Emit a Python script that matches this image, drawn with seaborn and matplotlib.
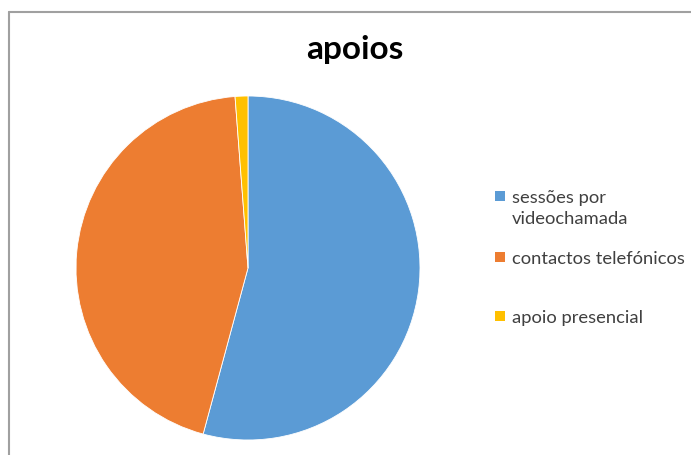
import matplotlib
matplotlib.use("Agg")
import matplotlib.pyplot as plt
import seaborn as sns
from matplotlib.lines import Line2D
from matplotlib.patches import Rectangle

sns.set_style("white")
plt.rcParams['font.family'] = ['Lato', 'DejaVu Sans']

# data (share of each support type, %)
categories = ["sessões por\nvideochamada", "contactos telefónicos", "apoio presencial"]
shares = [54.2, 44.6, 1.2]
colors = ["#5B9BD5", "#ED7D31", "#FFC000"]

W, H = 691, 455
fig = plt.figure(figsize=(W / 100, H / 100), dpi=100)

# pie: centre (248, 268) px, radius 172 px
cx, cy, r = 248, 268, 172
ax = fig.add_axes([(cx - r) / W, (H - cy - r) / H, 2 * r / W, 2 * r / H])
ax.pie(shares, colors=colors, startangle=90, counterclock=False,
       wedgeprops=dict(edgecolor="white", linewidth=0.6))
ax.set_xlim(-1, 1)
ax.set_ylim(-1, 1)
ax.set_aspect("auto")
ax.axis("off")

fig.text(355 / W, 1 - 50 / H, "apoios", ha="center", va="center",
         fontsize=24, fontweight="bold", color="black")

# legend, laid out the way the spreadsheet does it
marker_y = [196, 257, 316]
for lab, col, my in zip(categories, colors, marker_y):
    fig.patches.append(Rectangle(((500 - 5) / W, 1 - (my + 5) / H), 10 / W, 10 / H,
                                 transform=fig.transFigure, facecolor=col,
                                 edgecolor="none"))
    fig.text(512 / W, 1 - (my - 6) / H, lab, ha="left", va="top",
             fontsize=13.2, color="#404040", linespacing=1.4)

# chart area frame
frame_col = "#A0A0A0"
fig.add_artist(Line2D([9 / W, 9 / W], [0, 1 - 12 / H], transform=fig.transFigure,
                      color=frame_col, linewidth=1.5))
fig.add_artist(Line2D([9 / W, 1], [1 - 12 / H, 1 - 12 / H], transform=fig.transFigure,
                      color=frame_col, linewidth=1.5))

fig.savefig("out.png", dpi=100, facecolor="white")
